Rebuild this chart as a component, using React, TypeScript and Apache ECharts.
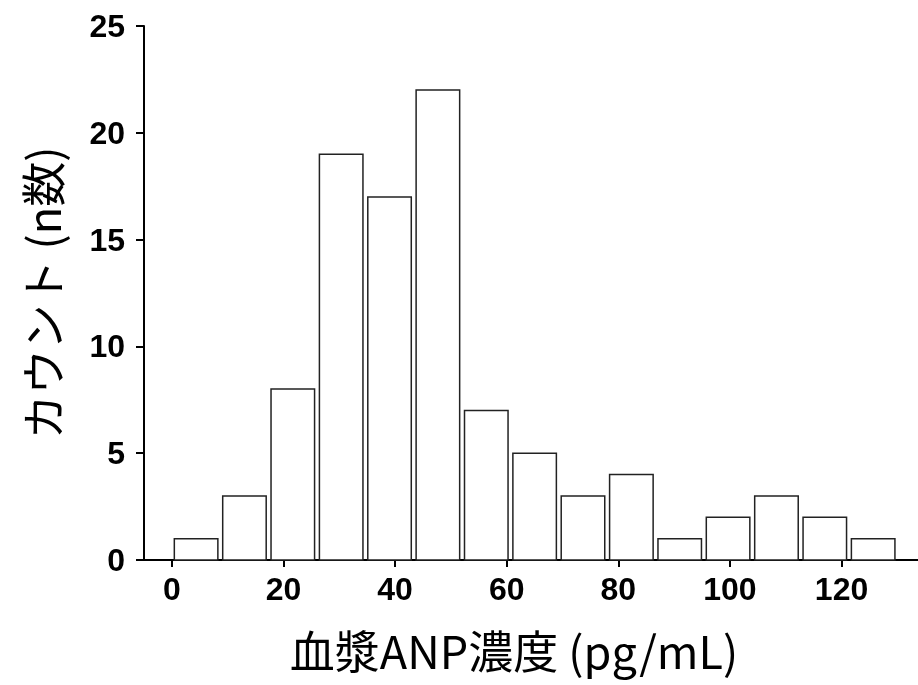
import React, { useEffect, useRef } from "react";
import * as echarts from "echarts";

// Histogram bins of plasma ANP concentration (pg/mL)
const binEdges = [0, 8.67, 17.33, 26, 34.67, 43.33, 52, 60.67, 69.33, 78, 86.67, 95.33, 104, 112.67, 121.33, 130];
const counts = [1, 3, 8, 19, 17, 22, 7, 5, 3, 4, 1, 2, 3, 2, 1];
const xTicks = [0, 20, 40, 60, 80, 100, 120];
const yTicks = [0, 5, 10, 15, 20, 25];
const xTitle = "血漿ANP濃度 (pg/mL)";
const yTitle = "カウント (n数)";

export default function App() {
  const ref = useRef<HTMLDivElement>(null);
  useEffect(() => {
    if (!ref.current) return;
    const chart = echarts.init(ref.current, null, { renderer: "svg" });
    const data = counts.map((c, i) => [binEdges[i], binEdges[i + 1], c]);
    const tickFont = { fontFamily: "Liberation Sans, Arial, sans-serif", fontWeight: "bold" as const, fontSize: 32, color: "#000" };
    chart.setOption({
      animation: false,
      grid: { left: 144, right: 0, top: 26, bottom: 125, containLabel: false, outerBoundsMode: "none" },
      xAxis: {
        type: "value",
        min: -5,
        max: 133.7,
        splitLine: { show: false },
        axisLine: { show: true, onZero: false, lineStyle: { color: "#000", width: 2 } },
        axisTick: { show: true, customValues: xTicks, length: 7, lineStyle: { color: "#000", width: 2 } },
        axisLabel: { customValues: xTicks, margin: 13, ...tickFont },
        name: xTitle,
        nameLocation: "middle",
        nameGap: 67,
        nameTextStyle: { fontFamily: "Noto Sans CJK JP, sans-serif", fontSize: 45, color: "#000", padding: [0, 34, 0, 0] },
      },
      yAxis: {
        type: "value",
        min: 0,
        max: 25,
        interval: 5,
        splitLine: { show: false },
        axisLine: { show: true, onZero: false, lineStyle: { color: "#000", width: 2 } },
        axisTick: { show: true, length: 8, lineStyle: { color: "#000", width: 2 } },
        axisLabel: { margin: 19, customValues: yTicks, ...tickFont },
        name: yTitle,
        nameLocation: "middle",
        nameGap: 80,
        nameRotate: 90,
        nameTextStyle: { fontFamily: "Noto Sans CJK JP, sans-serif", fontSize: 45, color: "#000" },
      },
      series: [
        {
          type: "custom",
          data,
          encode: { x: [0, 1], y: 2 },
          renderItem: (params: any, api: any) => {
            const x0 = api.value(0);
            const x1 = api.value(1);
            const v = api.value(2);
            const w = x1 - x0;
            const p0 = api.coord([x0 + w * 0.05, v]);
            const p1 = api.coord([x1 - w * 0.05, 0]);
            return {
              type: "rect",
              shape: { x: p0[0], y: p0[1], width: p1[0] - p0[0], height: p1[1] - p0[1] },
              style: { fill: "#fff", stroke: "#222", lineWidth: 1.5 },
            };
          },
        },
      ],
    });
    return () => chart.dispose();
  }, []);
  return <div ref={ref} style={{ position: "fixed", left: 0, top: 0, width: 918, height: 685 }} />;
}
